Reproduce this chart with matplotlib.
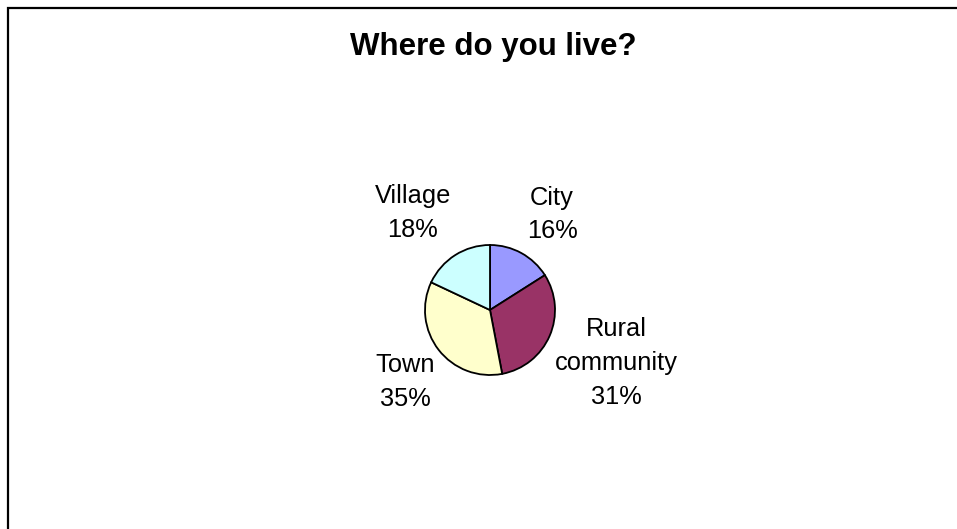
import matplotlib
matplotlib.use("Agg")
import matplotlib.pyplot as plt
from matplotlib.patches import Rectangle

plt.rcParams['font.family'] = ['Liberation Sans', 'DejaVu Sans']

title = "Where do you live?"
categories = ["City", "Rural\ncommunity", "Town", "Village"]
values = [16, 31, 35, 18]
colors = ["#9999FF", "#993366", "#FFFFCC", "#CCFFFF"]
# label centres, in units of the pie radius
label_xy = [(0.954, 1.470), (1.944, -0.818), (-1.304, -1.107), (-1.186, 1.490)]

W, H = 957, 529
fig = plt.figure(figsize=(W / 100, H / 100), dpi=100)

# frame (top and left edges visible)
fig.patches.append(Rectangle((8 / W, -0.1), 1.2, (H - 8) / H + 0.1, transform=fig.transFigure,
                             fill=False, edgecolor="black", linewidth=1.6))

fig.text(493 / W, 1 - 55 / H, title, ha="center", va="baseline", fontsize=22.5, fontweight="bold")

cx, cy, r = 490, 310, 65
span = 4.0
ax = fig.add_axes([(cx - r * span) / W, (H - cy - r * span) / H, 2 * r * span / W, 2 * r * span / H])
wedges, _ = ax.pie(values, colors=colors, startangle=90, counterclock=False, radius=1,
                   wedgeprops=dict(edgecolor="black", linewidth=1.3))
ax.set_xlim(-span, span)
ax.set_ylim(-span, span)
ax.set_aspect("equal")
ax.axis("off")

for cat, v, (x, y) in zip(categories, values, label_xy):
    ax.text(x, y, f"{cat}\n{v}%", ha="center", va="center", fontsize=18.3, linespacing=1.52)

fig.savefig("out.png", dpi=100)
